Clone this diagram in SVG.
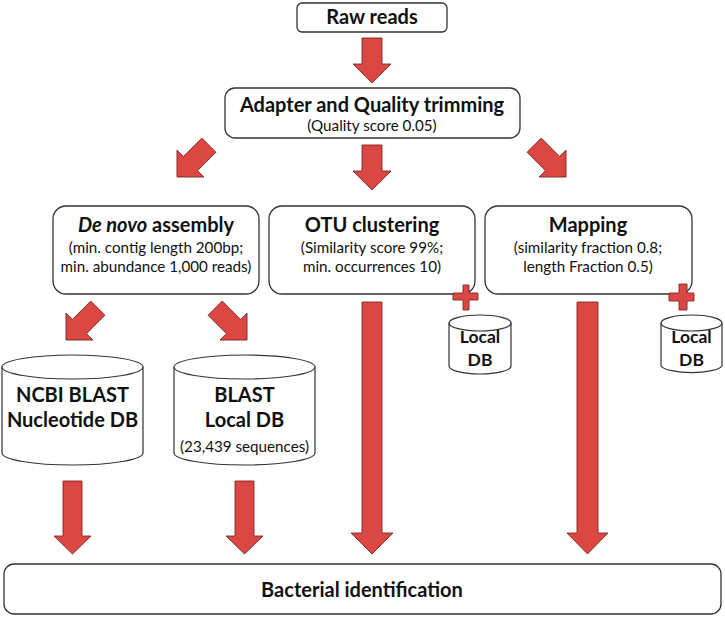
<svg xmlns="http://www.w3.org/2000/svg" width="725" height="618" viewBox="0 0 725 618">
<defs>
<style>
.box{fill:#fff;stroke:#333;stroke-width:1.3}
.cyl{fill:#fff;stroke:#333;stroke-width:1.2}
.arr{fill:#DB4743;stroke:#7E2826;stroke-width:0.9;stroke-linejoin:miter}
.t{font-family:Lato,"Open Sans",sans-serif;fill:#111;text-anchor:middle}
.b{font-weight:bold;font-size:20px}
.s{font-size:15.2px}
</style>
<path id="a45" d="M0,0 L-19,-19 L-10,-19 L-10,-45 L10,-45 L10,-19 L19,-19 Z"/>
</defs>
<rect width="725" height="618" fill="#fff"/>

<g id="raw-reads">
<rect class="box" x="297" y="3" width="150" height="29" rx="5"/>
<text class="t b" x="372" y="24">Raw reads</text>
</g>

<g id="trimming">
<rect class="box" x="225" y="88" width="295" height="50" rx="10"/>
<text class="t b" x="372" y="112">Adapter and Quality trimming</text>
<text class="t s" x="372" y="131">(Quality score 0.05)</text>
</g>

<g id="denovo">
<rect class="box" x="53" y="206" width="206" height="88" rx="13"/>
<text class="t b" x="156" y="232" font-size="20.5"><tspan font-style="italic">De novo</tspan> assembly</text>
<text class="t s" x="156" y="253">(min. contig length 200bp;</text>
<text class="t s" x="156" y="272">min. abundance 1,000 reads)</text>
</g>

<g id="otu">
<rect class="box" x="269" y="206" width="206" height="88" rx="13"/>
<text class="t b" x="372" y="232">OTU clustering</text>
<text class="t s" x="372" y="253">(Similarity score 99%;</text>
<text class="t s" x="372" y="272">min. occurrences 10)</text>
</g>

<g id="mapping">
<rect class="box" x="485" y="206" width="207" height="88" rx="13"/>
<text class="t b" x="588" y="232">Mapping</text>
<text class="t s" x="588" y="253">(similarity fraction 0.8;</text>
<text class="t s" x="588" y="272">length Fraction 0.5)</text>
</g>

<g id="ncbi-db">
<path class="cyl" d="M2,367 V453 A70.5,12 0 0 0 143,453 V367"/>
<ellipse class="cyl" cx="72.5" cy="367" rx="70.5" ry="12"/>
<text class="t b" x="72.5" y="402">NCBI BLAST</text>
<text class="t b" x="72.5" y="427">Nucleotide DB</text>
</g>

<g id="blast-local-db">
<path class="cyl" d="M174,367 V453 A70.5,12 0 0 0 315,453 V367"/>
<ellipse class="cyl" cx="244.5" cy="367" rx="70.5" ry="12"/>
<text class="t b" x="244.5" y="402">BLAST</text>
<text class="t b" x="244.5" y="427">Local DB</text>
<text class="t s" x="244.5" y="452">(23,439 sequences)</text>
</g>

<g id="otu-local-db">
<path class="cyl" d="M449,323 V366 A31,8 0 0 0 511,366 V323"/>
<ellipse class="cyl" cx="480" cy="323" rx="31" ry="8"/>
<text class="t" x="480" y="343" font-weight="bold" font-size="17.5">Local</text>
<text class="t" x="480" y="366" font-weight="bold" font-size="17.5">DB</text>
</g>

<g id="mapping-local-db">
<path class="cyl" d="M661,323 V366 A31,8 0 0 0 722,366 V323"/>
<ellipse class="cyl" cx="691.5" cy="323" rx="30.5" ry="8"/>
<text class="t" x="691.5" y="343" font-weight="bold" font-size="17.5">Local</text>
<text class="t" x="691.5" y="366" font-weight="bold" font-size="17.5">DB</text>
</g>

<g id="bacterial-id">
<rect class="box" x="4" y="564" width="717" height="50" rx="10"/>
<text class="t b" x="362" y="597" font-size="20.5">Bacterial identification</text>
</g>

<g id="connectors">
<use href="#a45" class="arr" transform="translate(372,83)"/>
<use href="#a45" class="arr" transform="translate(372,190)"/>
<use href="#a45" class="arr" transform="translate(177,177) rotate(45)"/>
<use href="#a45" class="arr" transform="translate(566,177) rotate(-45)"/>
<use href="#a45" class="arr" transform="translate(66,340) rotate(45)"/>
<use href="#a45" class="arr" transform="translate(247,340) rotate(-45)"/>
<path class="arr" d="M63,481 H82 V536 H91 L72.5,554 L54,536 H63 Z"/>
<path class="arr" d="M235,481 H254 V536 H263 L244.5,554 L226,536 H235 Z"/>
<path class="arr" d="M362,302 H382 V533 H393 L372,554 L351,533 H362 Z"/>
<path class="arr" d="M577,302 H598 V533 H608 L587.5,554 L567,533 H577 Z"/>
</g>

<g id="plus-signs">
<path class="arr" d="M463,285 H469 V293 H478 V300 H469 V310 H463 V300 H453 V293 H463 Z"/>
<path class="arr" d="M679,284 H687 V293 H694 V301 H687 V310 H679 V301 H669 V293 H679 Z"/>
</g>
</svg>
